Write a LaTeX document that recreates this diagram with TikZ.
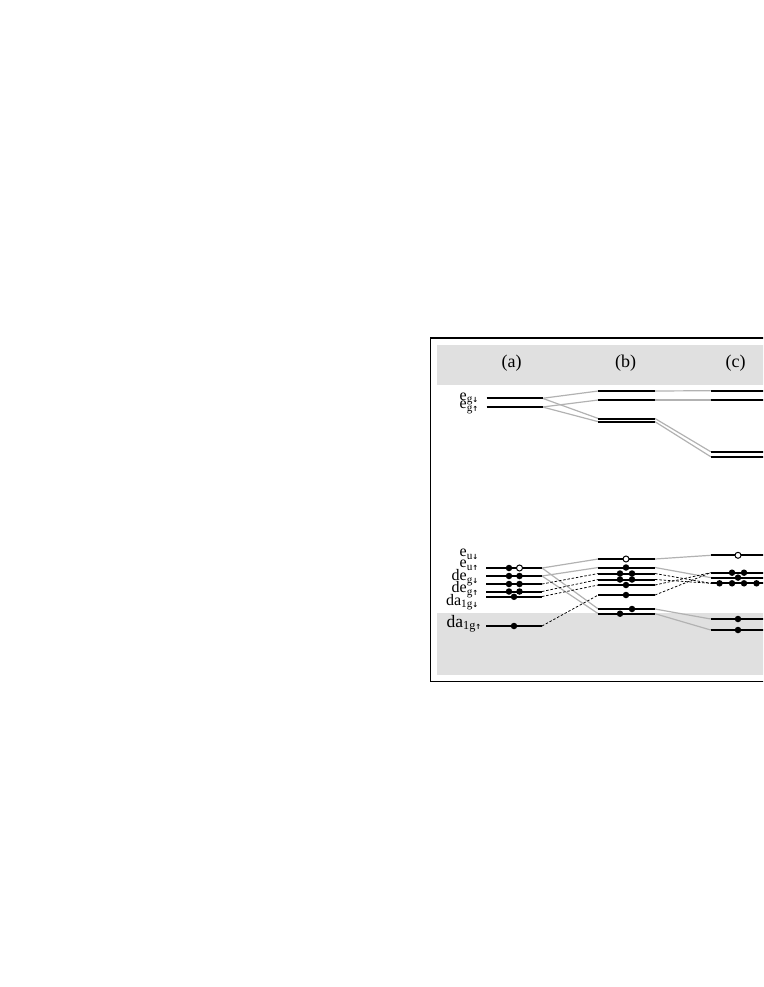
\documentclass[tikz,border=0pt]{standalone}
\usepackage{fontspec}
\setmainfont{Liberation Serif}
\newfontfamily\arrfont{DejaVu Sans}
\definecolor{bandgray}{gray}{0.88}
\definecolor{linkgray}{gray}{0.7}
\newcommand\lev[4]{\coordinate (#1-l) at (#2,#4); \coordinate (#1-r) at (#3,#4);}
\newcommand\dn{{\arrfont\bfseries\fontsize{7}{7}\selectfont ↓}}
\newcommand\up{{\arrfont\bfseries\fontsize{7}{7}\selectfont ↑}}
\begin{document}
\begin{tikzpicture}[x=1pt,y=-1pt,
  level/.style={line width=2pt},
  conn/.style={line width=1.2pt, draw=linkgray},
  dconn/.style={line width=0.75pt, dash pattern=on 2.5pt off 1.8pt},
  edot/.style={circle, fill=black, inner sep=0pt, minimum size=6.5pt},
  hole/.style={circle, draw=black, fill=white, line width=1pt, inner sep=0pt, minimum size=6pt},
  lab/.style={anchor=base east, inner sep=0pt, font=\fontsize{16}{16}\selectfont},
  col/.style={inner sep=0pt, font=\fontsize{18}{18}\selectfont}]
\useasboundingbox (0,0) rectangle (763,987);
\clip (0,0) rectangle (763,987);
% background bands and frame
\fill[bandgray] (436.5,345) rectangle (800,384.5);
\fill[bandgray] (436.5,612.7) rectangle (800,674.7);
\draw[line width=1.6pt] (430.5,338) rectangle (800,681.5);
% column headers
\node[col] (ha) at (511.5,363) {(a)};
\node[col] (hb) at (625.5,363) {(b)};
\node[col] (hc) at (735.5,363) {(c)};
% ---- level coordinates ----
% upper
\lev{ag1}{486.5}{542.5}{398.3}
\lev{ag2}{486.5}{542.5}{407}
\lev{bg1}{598.3}{655}{391}
\lev{bg2}{598.3}{655}{400}
\lev{bg3}{598.3}{655}{418.5}
\lev{bg4}{598.3}{655}{421.7}
\lev{cg1}{710.7}{767}{390.7}
\lev{cg2}{710.7}{767}{400}
\lev{cg3}{710.7}{767}{451.7}
\lev{cg4}{710.7}{767}{456.7}
% lower
\lev{a1}{486}{542}{568}
\lev{a2}{486}{542}{576}
\lev{a3}{486}{542}{584}
\lev{a4}{486}{542}{591.5}
\lev{a5}{486}{542}{596.5}
\lev{a6}{486}{542}{626}
\lev{b1}{598.3}{655}{559}
\lev{b2}{598.3}{655}{567.5}
\lev{b3}{598.3}{655}{573.5}
\lev{b4}{598.3}{655}{579.5}
\lev{b5}{598.3}{655}{585}
\lev{b6}{598.3}{655}{595}
\lev{b7}{598.3}{655}{609}
\lev{b8}{598.3}{655}{613.7}
\lev{c1}{710.7}{767}{555.3}
\lev{c2}{710.7}{767}{572.7}
\lev{c3}{710.7}{767}{577.6}
\lev{c4}{710.7}{767}{583.3}
\lev{c5}{710.7}{767}{619}
\lev{c6}{710.7}{767}{630}
% ---- connectors ----
\draw[conn] (ag1-r) -- (bg1-l);
\draw[conn] (ag1-r) -- (bg3-l);
\draw[conn] (ag2-r) -- (bg2-l);
\draw[conn] (ag2-r) -- (bg4-l);
\draw[conn] (bg1-r) -- (cg1-l);
\draw[conn] (bg2-r) -- (cg2-l);
\draw[conn] (bg3-r) -- (cg3-l);
\draw[conn] (bg4-r) -- (cg4-l);
\draw[conn] (a1-r) -- (b1-l);
\draw[conn] (a1-r) -- (b7-l);
\draw[conn] (a2-r) -- (b2-l);
\draw[conn] (a2-r) -- (b8-l);
\draw[dconn] (a3-r) -- (b3-l);
\draw[dconn] (a4-r) -- (b4-l);
\draw[dconn] (a5-r) -- (b5-l);
\draw[dconn] (a6-r) -- (b6-l);
\draw[conn] (b1-r) -- (c1-l);
\draw[conn] (b2-r) -- (c3-l);
\draw[conn] (b7-r) -- (c5-l);
\draw[conn] (b8-r) -- (c6-l);
\draw[dconn] (b3-r) -- (c4-l);
\draw[dconn] (b4-r) -- (c4-l);
\draw[dconn] (b5-r) -- (c2-l);
\draw[dconn] (b6-r) -- (c2-l);
% ---- levels ----
\foreach \n in {ag1,ag2,bg1,bg2,bg3,bg4,cg1,cg2,cg3,cg4,
  a1,a2,a3,a4,a5,a6,b1,b2,b3,b4,b5,b6,b7,b8,c1,c2,c3,c4,c5,c6}
  \draw[level] (\n-l) -- (\n-r);
% ---- electrons and holes ----
% (a)
\node[edot] (ea1) at (509,568) {};
\node[hole] (ha1) at (519.5,568) {};
\node[edot] (ea2) at (509,576) {};
\node[edot] (ea3) at (519.5,576) {};
\node[edot] (ea4) at (509,584) {};
\node[edot] (ea5) at (519.5,584) {};
\node[edot] (ea6) at (509,591.5) {};
\node[edot] (ea7) at (519.5,591.5) {};
\node[edot] (ea8) at (514,596.8) {};
\node[edot] (ea9) at (514,626) {};
% (b)
\node[hole] (hb1) at (626,559) {};
\node[edot] (eb1) at (626,567.5) {};
\node[edot] (eb2) at (620,573.5) {};
\node[edot] (eb3) at (632,573.5) {};
\node[edot] (eb4) at (620,579.5) {};
\node[edot] (eb5) at (632,579.5) {};
\node[edot] (eb6) at (626,585) {};
\node[edot] (eb7) at (626,595) {};
\node[edot] (eb8) at (632,609) {};
\node[edot] (eb9) at (620,613.7) {};
% (c)
\node[hole] (hc1) at (738,555.3) {};
\node[edot] (ec1) at (732,572.7) {};
\node[edot] (ec2) at (744,572.7) {};
\node[edot] (ec3) at (738,577.6) {};
\node[edot] (ec4) at (719.5,583.3) {};
\node[edot] (ec5) at (732,583.3) {};
\node[edot] (ec6) at (744,583.3) {};
\node[edot] (ec7) at (756.5,583.3) {};
\node[edot] (ec8) at (738,619) {};
\node[edot] (ec9) at (738,630) {};
% ---- labels ----
\node[lab] (lg1) at (479,400) {e\textsubscript{g\dn}};
\node[lab] (lg2) at (479,408.5) {e\textsubscript{g\up}};
\node[lab] (lu1) at (479,556.7) {e\textsubscript{u\dn}};
\node[lab] (lu2) at (479,567.5) {e\textsubscript{u\up}};
\node[lab] (ld1) at (479,580.5) {de\textsubscript{g\dn}};
\node[lab] (ld2) at (479,592.7) {de\textsubscript{g\up}};
\node[lab] (la1) at (479,605) {da\textsubscript{1g\dn}};
\node[lab,font=\fontsize{17.5}{17.5}\selectfont] (la2) at (482,627) {da\textsubscript{1g\up}};
\end{tikzpicture}
\end{document}
